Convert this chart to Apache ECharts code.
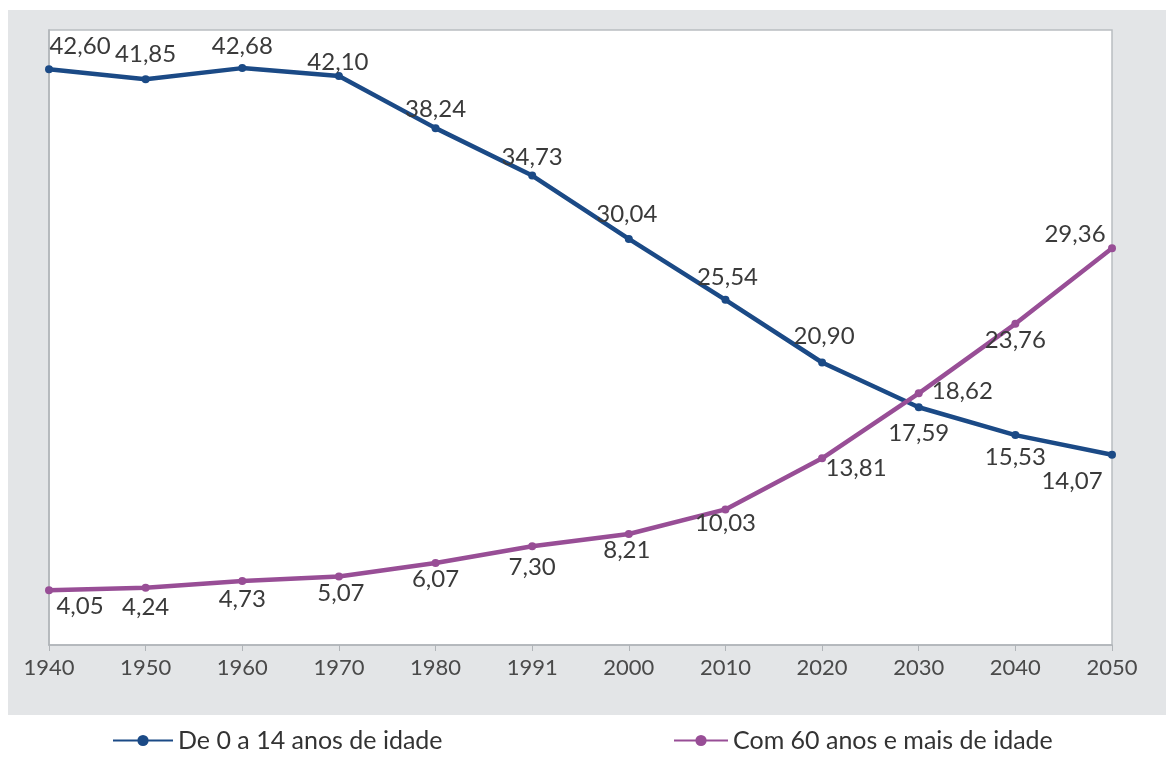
<!DOCTYPE html>
<html>
<head>
<meta charset="utf-8">
<script src="https://cdn.jsdelivr.net/npm/echarts@6/dist/echarts.min.js"></script>
<style>html,body{margin:0;padding:0;background:#fff}#c{width:1166px;height:767px}</style>
</head>
<body>
<div id="c"></div>
<script>
const years = ['1940','1950','1960','1970','1980','1991','2000','2010','2020','2030','2040','2050'];
const young = [42.60, 41.85, 42.68, 42.10, 38.24, 34.73, 30.04, 25.54, 20.90, 17.59, 15.53, 14.07];
const old = [4.05, 4.24, 4.73, 5.07, 6.07, 7.30, 8.21, 10.03, 13.81, 18.62, 23.76, 29.36];
const nameYoung = 'De 0 a 14 anos de idade';
const nameOld = 'Com 60 anos e mais de idade';

const fmt = v => v.toFixed(2).replace('.', ',');
const FONT = 'Lato';

// label placement (styling, separate from data)
const youngLab = [
  ['top',[31,-2]],['top',[0,-4]],['top',[0,-1]],['top',[-1,7]],['top',[0,2]],['top',[0,3]],
  ['top',[-2,-4]],['top',[2,-2]],['top',[2,-5]],['bottom',[0,5]],['bottom',[0,1]],['bottom',[-40,5]]
];
const oldLab = [
  ['bottom',[31,-1]],['bottom',[0,3]],['bottom',[0,1]],['bottom',[2,0]],['bottom',[0,-1]],['bottom',[0,4]],
  ['bottom',[-2,-1]],['bottom',[0,-3]],['bottom',[34,-7]],['right',[8,-2]],['bottom',[0,-1]],['top',[-37,3]]
];

function build(vals, place) {
  return vals.map((v, i) => ({value: v, label: {position: place[i][0], offset: place[i][1]}}));
}

const chart = echarts.init(document.getElementById('c'));
chart.setOption({
  backgroundColor: '#ffffff',
  animation: false,
  graphic: [{type:'rect', z:-10, silent:true, shape:{x:8,y:10,width:1158,height:705}, style:{fill:'#e3e5e7'}}],
  grid: {left:49, right:54, top:30, bottom:122, show:true, backgroundColor:'#ffffff', borderColor:'#b9bdc1', borderWidth:1.5},
  legend: [
    {data:[nameYoung], left:107, top:723, itemWidth:60, itemHeight:14, itemGap:10, textStyle:{fontFamily:FONT, fontSize:25, color:'#333'}},
    {data:[nameOld], left:668, top:723, itemWidth:54, itemHeight:14, textStyle:{fontFamily:FONT, fontSize:25, color:'#333'}}
  ],
  xAxis: {
    type:'category', data:years, boundaryGap:false,
    axisLine:{lineStyle:{color:'#b0b4b8', width:1.5}},
    axisTick:{show:true, length:6, lineStyle:{color:'#b0b4b8'}},
    axisLabel:{fontFamily:FONT, fontSize:22, color:'#4a4a4a', margin:12}
  },
  yAxis: {
    type:'value', min:0, max:45.5,
    axisLine:{show:true, lineStyle:{color:'#b0b4b8', width:1.5}},
    axisTick:{show:false}, axisLabel:{show:false}, splitLine:{show:false}
  },
  series: [
    {name:nameYoung, type:'line', data:build(young, youngLab), symbol:'circle', symbolSize:8,
     itemStyle:{color:'#1b4a86'}, lineStyle:{width:4.5, color:'#1b4a86'},
     label:{show:true, formatter:p=>fmt(p.value), fontFamily:FONT, fontSize:24, color:'#3a3a3a', distance:5}},
    {name:nameOld, type:'line', data:build(old, oldLab), symbol:'circle', symbolSize:8,
     itemStyle:{color:'#984e96'}, lineStyle:{width:4.5, color:'#984e96'},
     label:{show:true, formatter:p=>fmt(p.value), fontFamily:FONT, fontSize:24, color:'#3a3a3a', distance:1}}
  ]
});
</script>
</body>
</html>
